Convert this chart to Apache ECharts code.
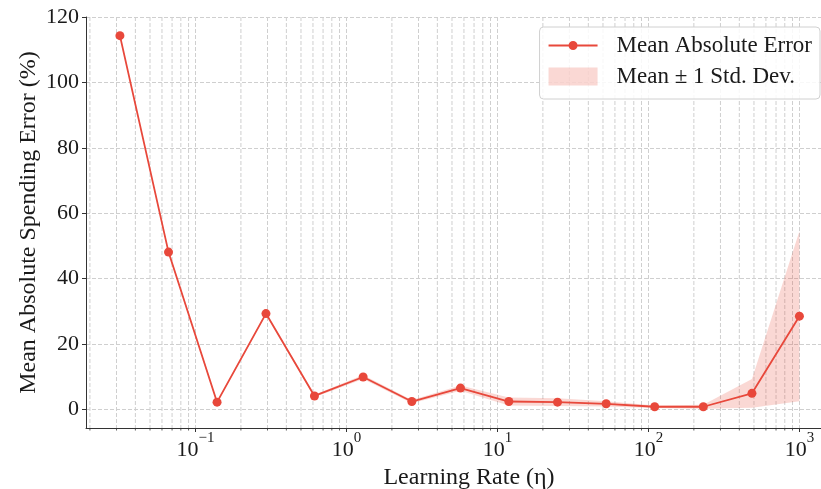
<!DOCTYPE html>
<html>
<head>
<meta charset="utf-8">
<script src="https://cdn.jsdelivr.net/npm/echarts@6/dist/echarts.min.js"></script>
<style>
  html, body { margin: 0; padding: 0; background: #fff; }
  #chart { width: 821px; height: 489px; }
</style>
</head>
<body>
<div id="chart"></div>
<script>
// learning rates (logspace from 10^-1.5 to 10^3, 15 steps)
const rates = [0.0316, 0.0663, 0.139, 0.293, 0.614, 1.29, 2.71, 5.69, 11.9, 25.0, 52.5, 110, 231, 485, 1000]
const meanErr = [114.3, 48.1, 2.2, 29.3, 4.1, 9.9, 2.4, 6.5, 2.4, 2.2, 1.7, 0.8, 0.8, 4.9, 28.5]
const stdErr = [0.3, 0.3, 0.3, 0.3, 0.4, 0.6, 0.5, 0.8, 1.2, 1.2, 0.8, 0.4, 0.6, 4.4, 26.0]
const minorMults = [2, 3, 4, 5, 6, 7, 8, 9]
const decades = [-2, -1, 0, 1, 2]

const RED = '#E8483B'
const BAND = 'rgba(231, 76, 60, 0.22)'
const GRID = '#cfcfcf'
const FONT = 'Liberation Serif'

const xMin = Math.pow(10, -1.725)
const xMax = Math.pow(10, 3.143)
const yMin = -5.7
const yMax = 120

const minorTicks = []
decades.forEach(d => {
  minorMults.forEach(m => {
    const v = m * Math.pow(10, d)
    if (v > xMin && v < xMax) minorTicks.push([v, 0])
  })
})

const bandData = rates.map((x, i) => [x, meanErr[i] - stdErr[i], meanErr[i] + stdErr[i]])
const meanData = rates.map((x, i) => [x, meanErr[i]])

// legend icon: line with a dot, bbox padded to the full 49x18 icon box
const lineDotIcon = 'path://M0,0L0.01,0L0,0.01Z M49,18L48.99,18L49,17.99Z ' +
  'M0,8.1L49,8.1L49,9.9L0,9.9Z M20,9A4.5,4.5 0 1,1 29,9A4.5,4.5 0 1,1 20,9Z'

const chart = echarts.init(document.getElementById('chart'), null, { renderer: 'canvas' })

const option = {
  animation: false,
  textStyle: { fontFamily: FONT },
  grid: { left: 86, right: 0, top: 17, bottom: 61, containLabel: false, outerBoundsMode: 'none' },
  legend: {
    orient: 'vertical',
    right: 1,
    top: 27,
    padding: [7, 8, 11, 9],
    itemWidth: 49,
    itemHeight: 18,
    itemGap: 8,
    borderColor: '#d0d0d0',
    borderWidth: 1,
    borderRadius: 4,
    backgroundColor: 'rgba(255,255,255,0.85)',
    textStyle: { fontFamily: FONT, fontSize: 23, color: '#1a1a1a', padding: [0, 0, 0, 14] },
    data: [
      { name: 'Mean Absolute Error', icon: lineDotIcon, itemStyle: { color: RED } },
      { name: 'Mean ± 1 Std. Dev.', icon: 'rect', itemStyle: { color: BAND, borderWidth: 0 } }
    ]
  },
  xAxis: {
    type: 'log',
    logBase: 10,
    min: xMin,
    max: xMax,
    name: 'Learning Rate (η)',
    nameLocation: 'middle',
    nameGap: 38,
    nameMoveOverlap: false,
    nameTextStyle: { fontFamily: FONT, fontSize: 24, color: '#1a1a1a', padding: [0, 0, 0, 31] },
    axisLine: { show: true, onZero: false, lineStyle: { color: '#333', width: 1 } },
    axisTick: { show: true, length: 4, lineStyle: { color: '#333' } },
    axisLabel: {
      showMinLabel: false,
      showMaxLabel: false,
      margin: 3,
      formatter: v => {
        const e = Math.log10(v)
        if (Math.abs(e - Math.round(e)) > 1e-6) return ''
        const n = Math.round(e)
        return '{b|10}{s|' + (n < 0 ? '−' + (-n) : n) + '}'
      },
      rich: {
        b: { fontFamily: FONT, fontSize: 22, color: '#1a1a1a', verticalAlign: 'bottom', lineHeight: 30 },
        s: { fontFamily: FONT, fontSize: 15, color: '#1a1a1a', verticalAlign: 'top', lineHeight: 30 }
      }
    },
    splitLine: { show: true, lineStyle: { color: GRID, type: [4, 2], width: 1 } }
  },
  yAxis: {
    type: 'value',
    min: yMin,
    max: yMax,
    splitNumber: 6,
    name: 'Mean Absolute Spending Error (%)',
    nameLocation: 'middle',
    nameGap: 45,
    nameMoveOverlap: false,
    nameTextStyle: { fontFamily: FONT, fontSize: 24, color: '#1a1a1a' },
    axisLine: { show: true, onZero: false, lineStyle: { color: '#333', width: 1 } },
    axisTick: { show: true, length: 4, lineStyle: { color: '#333' } },
    axisLabel: { showMinLabel: false, fontFamily: FONT, fontSize: 22, color: '#1a1a1a', margin: 7 },
    splitLine: { show: true, lineStyle: { color: GRID, type: [4, 2], width: 1 } }
  },
  series: [
    {
      // minor grid lines and minor ticks at 2..9 x 10^k
      type: 'custom',
      silent: true,
      clip: false,
      z: 0,
      data: minorTicks,
      renderItem: (params, api) => {
        const top = api.coord([api.value(0), yMax])
        const bot = api.coord([api.value(0), yMin])
        return {
          type: 'group',
          children: [
            {
              type: 'line',
              shape: { x1: top[0], y1: top[1], x2: bot[0], y2: bot[1] },
              style: { stroke: GRID, lineWidth: 1, lineDash: [4, 2] }
            },
            {
              type: 'line',
              shape: { x1: bot[0], y1: bot[1], x2: bot[0], y2: bot[1] + 2.5 },
              style: { stroke: '#333', lineWidth: 0.8 }
            }
          ]
        }
      }
    },
    {
      // shaded band mean +- std, drawn as one polygon
      name: 'Mean ± 1 Std. Dev.',
      type: 'custom',
      silent: true,
      z: 2,
      itemStyle: { color: BAND },
      encode: { x: 0, y: [1, 2] },
      data: bandData,
      renderItem: (params, api) => {
        if (params.dataIndex !== 0) return null
        const upper = bandData.map(d => api.coord([d[0], d[2]]))
        const lower = bandData.map(d => api.coord([d[0], d[1]])).reverse()
        return {
          type: 'polygon',
          shape: { points: upper.concat(lower) },
          style: { fill: BAND, stroke: null }
        }
      }
    },
    {
      name: 'Mean Absolute Error',
      type: 'line',
      data: meanData,
      symbol: 'circle',
      symbolSize: 9,
      itemStyle: { color: RED },
      lineStyle: { color: RED, width: 1.8 },
      z: 5
    }
  ]
}

chart.setOption(option)
</script>
</body>
</html>
